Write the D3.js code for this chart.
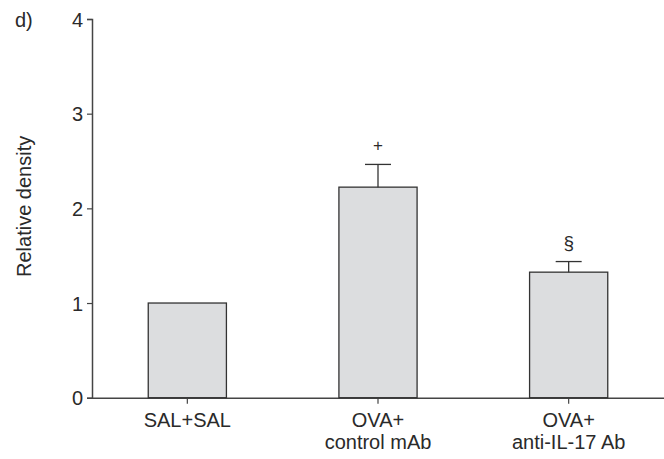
<!DOCTYPE html>
<html>
<head>
<meta charset="utf-8">
<script src="https://cdn.jsdelivr.net/npm/d3@7"></script>
<style>
  body { margin: 0; background: #fff; }
  text { font-family: "Liberation Sans", Arial, sans-serif; fill: #2a2a2a; }
</style>
</head>
<body>
<div id="chart"></div>
<script>
const groups = ["SAL+SAL", "OVA+\ncontrol mAb", "OVA+\nanti-IL-17 Ab"];
const values = [1.0, 2.224, 1.326];
const errors = [0, 0.24, 0.112];
const marks = ["", "+", "§"];
const yTicks = [0, 1, 2, 3, 4];

const w = 664, h = 459;
const margin = { top: 19, right: 0, bottom: 61, left: 92 };

const svg = d3.select("#chart").append("svg")
  .attr("width", w)
  .attr("height", h);

const x = d3.scaleBand()
  .domain(groups)
  .range([margin.left, w - margin.right])
  .paddingInner(0.59)
  .paddingOuter(0.295);

const y = d3.scaleLinear()
  .domain([0, 4])
  .range([h - margin.bottom - 0.3, margin.top]);

const axisColor = "#444";

// y axis
const yAxis = svg.append("g")
  .attr("transform", `translate(${margin.left},0)`)
  .call(d3.axisLeft(y).tickValues(yTicks).tickFormat(d3.format("d")).tickSize(5).tickPadding(4));
yAxis.attr("font-family", null).attr("font-size", null);
yAxis.select(".domain").attr("stroke", axisColor).attr("stroke-width", 1.5);
yAxis.selectAll(".tick line").attr("stroke", axisColor).attr("stroke-width", 1.2);
yAxis.selectAll(".tick text").attr("font-size", 20).attr("dy", "0.36em");

// x axis
const xAxis = svg.append("g")
  .attr("transform", `translate(0,${y(0)})`)
  .call(d3.axisBottom(x).tickSize(6).tickSizeOuter(0).tickFormat(""));
xAxis.select(".domain").attr("stroke", axisColor).attr("stroke-width", 1.5);
xAxis.selectAll(".tick line").attr("stroke", axisColor).attr("stroke-width", 1.2);

// category labels, two lines
groups.forEach(g => {
  const lines = g.split("\n");
  const cx = x(g) + x.bandwidth() / 2;
  const t = svg.append("text")
    .attr("text-anchor", "middle")
    .attr("font-size", 20)
    .attr("x", cx)
    .attr("y", y(0) + 29);
  lines.forEach((l, i) => {
    t.append("tspan")
      .attr("x", cx)
      .attr("dy", i === 0 ? 0 : 22)
      .text(l);
  });
});

// bars
svg.append("g").selectAll("rect")
  .data(groups)
  .join("rect")
  .attr("x", d => x(d))
  .attr("y", (d, i) => y(values[i]))
  .attr("width", x.bandwidth())
  .attr("height", (d, i) => y(0) - y(values[i]))
  .attr("fill", "#dcdddf")
  .attr("stroke", "#333")
  .attr("stroke-width", 1.3);

// error bars
const capW = 26;
groups.forEach((g, i) => {
  if (!errors[i]) return;
  const cx = x(g) + x.bandwidth() / 2;
  svg.append("line")
    .attr("x1", cx).attr("x2", cx)
    .attr("y1", y(values[i])).attr("y2", y(values[i] + errors[i]))
    .attr("stroke", "#333").attr("stroke-width", 1.3);
  svg.append("line")
    .attr("x1", cx - capW / 2).attr("x2", cx + capW / 2)
    .attr("y1", y(values[i] + errors[i])).attr("y2", y(values[i] + errors[i]))
    .attr("stroke", "#333").attr("stroke-width", 1.3);
  svg.append("text")
    .attr("x", cx)
    .attr("y", y(values[i] + errors[i]) - 13)
    .attr("text-anchor", "middle")
    .attr("font-size", i === 2 ? 19 : 17)
    .text(marks[i]);
});

// y label
svg.append("text")
  .attr("transform", `translate(31,${(y(0) + y(4)) / 2 - 2}) rotate(-90)`)
  .attr("text-anchor", "middle")
  .attr("font-size", 20)
  .text("Relative density");

// panel letter
svg.append("text")
  .attr("x", 15)
  .attr("y", 27)
  .attr("font-size", 20)
  .text("d)");
</script>
</body>
</html>
